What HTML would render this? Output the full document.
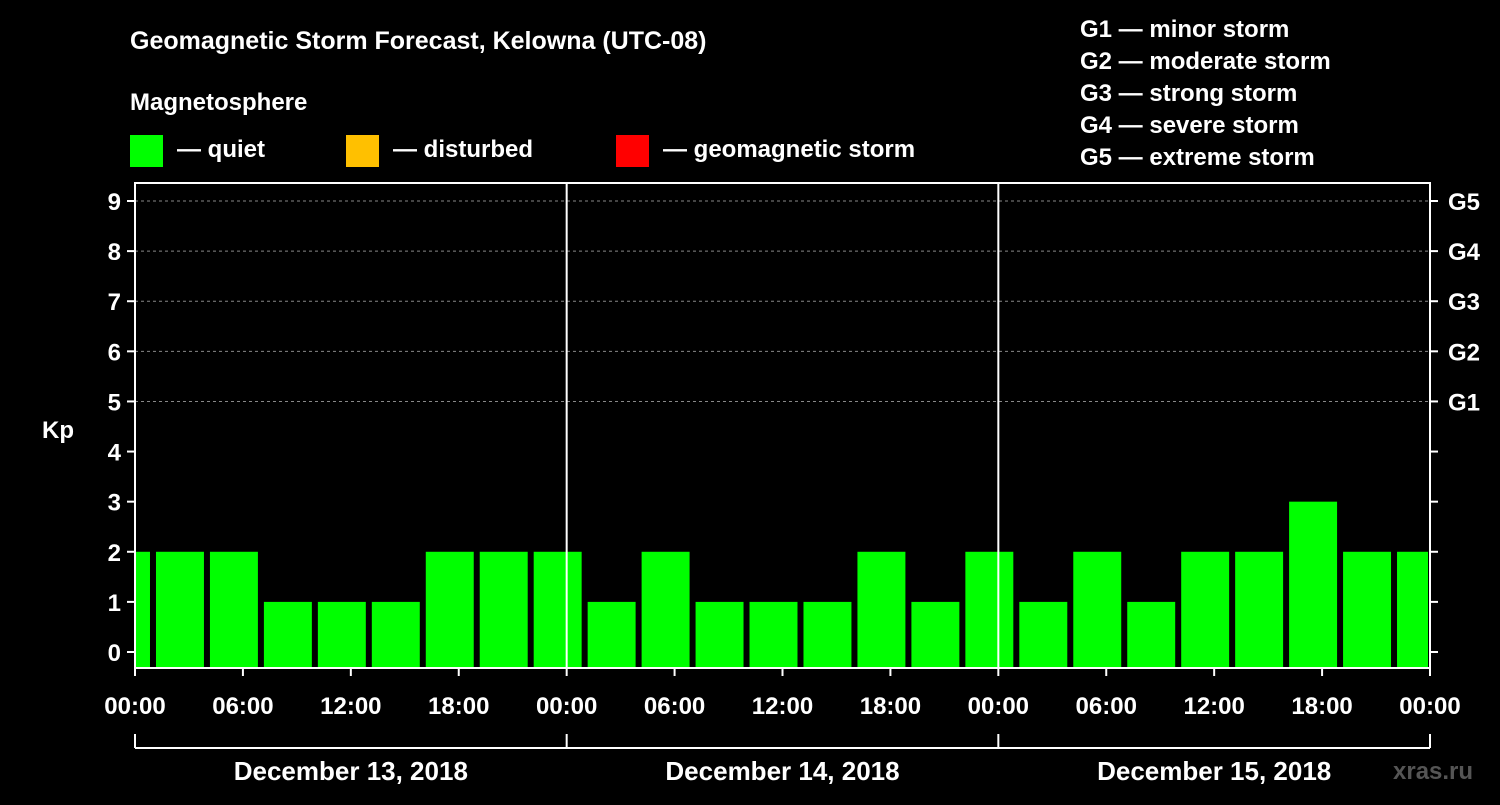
<!DOCTYPE html>
<html><head><meta charset="utf-8"><style>
body{margin:0;background:#000;}
svg text{font-family:"Liberation Sans",sans-serif;font-weight:bold;fill:#fff;}
</style></head><body>
<svg id="c" width="1500" height="800" xmlns="http://www.w3.org/2000/svg">
<rect width="1500" height="800" fill="#000"/>
<text x="130" y="49" font-size="25">Geomagnetic Storm Forecast, Kelowna (UTC-08)</text>
<text x="130" y="110" font-size="24">Magnetosphere</text>
<g><rect x="130" y="135" width="33" height="32" fill="#00ff00"/><text x="177" y="157" font-size="24">— quiet</text></g>
<g><rect x="346" y="135" width="33" height="32" fill="#ffc000"/><text x="393" y="157" font-size="24">— disturbed</text></g>
<g><rect x="616" y="135" width="33" height="32" fill="#ff0000"/><text x="663" y="157" font-size="24">— geomagnetic storm</text></g>
<g font-size="24">
<text x="1080" y="37">G1 — minor storm</text>
<text x="1080" y="69">G2 — moderate storm</text>
<text x="1080" y="101">G3 — strong storm</text>
<text x="1080" y="133">G4 — severe storm</text>
<text x="1080" y="165">G5 — extreme storm</text>
</g>
<text x="42" y="438" font-size="24">Kp</text>
<text x="1393" y="779" font-size="24" fill="#555" style="fill:#555">xras.ru</text>
<g id="marks"></g>
</svg>
<script>
const kpValues=[2,2,2,1,1,1,2,2,2,1,2,1,1,1,2,1,2,1,2,1,2,2,3,2,2];
const yTicks=[0,1,2,3,4,5,6,7,8,9];
const gLabels=["G1","G2","G3","G4","G5"];
const xTickLabels=["00:00","06:00","12:00","18:00","00:00","06:00","12:00","18:00","00:00","06:00","12:00","18:00","00:00"];
const dayLabels=["December 13, 2018","December 14, 2018","December 15, 2018"];
const firstSlotHour=-2;
const L=135,R=1430,T=183,B=668;
const x=h=>L+h*(R-L)/72;
const y=v=>652-v*(652-201)/9;
const NS="http://www.w3.org/2000/svg";
const g=document.getElementById('marks');
function mk(t,a,p){const e=document.createElementNS(NS,t);for(const k in a)e.setAttribute(k,a[k]);(p||g).appendChild(e);return e;}
// gridlines
yTicks.forEach(v=>{if(v>=5){const l=mk('line',{x1:L,x2:R,y1:y(v),y2:y(v),stroke:'#888','stroke-dasharray':'3,3','stroke-width':1});}});
// bars
kpValues.forEach((v,i)=>{
  let h0=firstSlotHour+i*3;
  let x0=Math.max(x(h0)+3,L),x1=Math.min(x(h0+3)-3,R-2);
  const c=v>=5?'#ff0000':(v>=4?'#ffc000':'#00ff00');
  const r=mk('rect',{x:x0,y:y(v),width:x1-x0,height:B-y(v),fill:c});
  
  
});
// day separators
[1,2].forEach(d=>{const l=mk('line',{x1:x(d*24),x2:x(d*24),y1:T,y2:B,stroke:'#fff','stroke-width':2});});
// frame
const fr=mk('rect',{x:L,y:T,width:R-L,height:B-T,fill:'none',stroke:'#fff','stroke-width':2});


// y ticks
yTicks.forEach(v=>{
  mk('line',{x1:L-8,x2:L,y1:y(v),y2:y(v),stroke:'#fff','stroke-width':2});
  mk('line',{x1:R,x2:R+8,y1:y(v),y2:y(v),stroke:'#fff','stroke-width':2});
  const t=mk('text',{x:L-14,y:y(v)+9,'font-size':24,'text-anchor':'end'});t.textContent=v;
  
  
  if(v>=5){const r=mk('text',{x:R+18,y:y(v)+9,'font-size':24});r.textContent=gLabels[v-5];
  
  }
});
// x ticks
xTickLabels.forEach((s,i)=>{
  const xx=x(i*6);
  mk('line',{x1:xx,x2:xx,y1:B,y2:B+8,stroke:'#fff','stroke-width':2});
  const t=mk('text',{x:xx,y:714,'font-size':24,'text-anchor':'middle'});t.textContent=s;
  
  
});
// day bracket
mk('line',{x1:L,x2:R,y1:748,y2:748,stroke:'#fff','stroke-width':2});
[0,1,2,3].forEach(d=>mk('line',{x1:x(d*24),x2:x(d*24),y1:734,y2:748,stroke:'#fff','stroke-width':2}));
dayLabels.forEach((s,i)=>{const t=mk('text',{x:x(i*24+12),y:780,'font-size':26,'text-anchor':'middle'});t.textContent=s;
  
  });
</script>
</body></html>
